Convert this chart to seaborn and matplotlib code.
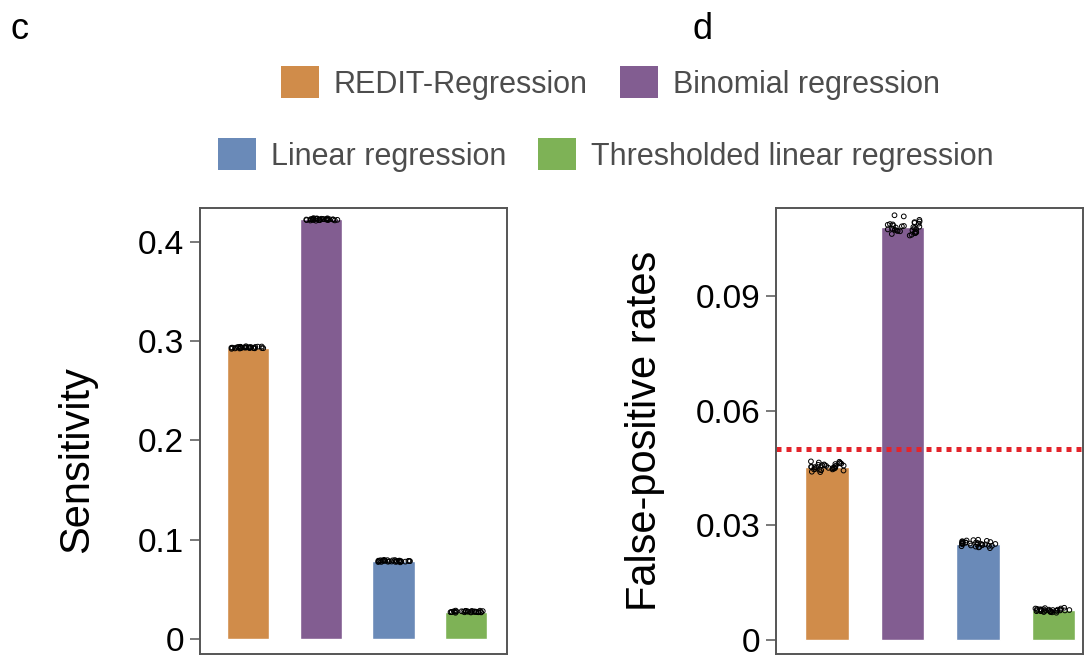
import numpy as np
import pandas as pd
import matplotlib
matplotlib.use("Agg")
import matplotlib.pyplot as plt
from matplotlib.patches import Patch
import seaborn as sns

methods = ["REDIT-Regression", "Binomial regression", "Linear regression",
           "Thresholded linear regression"]
colors = ["#D08C4A", "#825D91", "#6A8AB8", "#7EB256"]

# Per-replicate sensitivity
sens_redit = [0.2932, 0.2941, 0.2928, 0.2937, 0.2945, 0.2930, 0.2926, 0.2939, 0.2934, 0.2948,
              0.2922, 0.2936, 0.2931, 0.2943, 0.2929, 0.2938, 0.2933, 0.2940, 0.2925, 0.2935,
              0.2942, 0.2927, 0.2937, 0.2934, 0.2930, 0.2944, 0.2932, 0.2939, 0.2936, 0.2928]
sens_binom = [0.4221, 0.4230, 0.4215, 0.4226, 0.4235, 0.4218, 0.4224, 0.4229, 0.4212, 0.4227,
              0.4233, 0.4220, 0.4225, 0.4238, 0.4217, 0.4223, 0.4228, 0.4219, 0.4231, 0.4222,
              0.4226, 0.4214, 0.4232, 0.4224, 0.4221, 0.4229, 0.4218, 0.4227, 0.4236, 0.4223]
sens_linear = [0.0782, 0.0790, 0.0778, 0.0786, 0.0794, 0.0780, 0.0775, 0.0788, 0.0784, 0.0797,
               0.0772, 0.0787, 0.0781, 0.0792, 0.0779, 0.0789, 0.0783, 0.0791, 0.0776, 0.0785,
               0.0793, 0.0777, 0.0786, 0.0784, 0.0781, 0.0795, 0.0783, 0.0788, 0.0787, 0.0779]
sens_thresh = [0.0274, 0.0280, 0.0269, 0.0277, 0.0283, 0.0271, 0.0267, 0.0279, 0.0275, 0.0286,
               0.0264, 0.0276, 0.0272, 0.0281, 0.0270, 0.0278, 0.0273, 0.0282, 0.0268, 0.0275,
               0.0284, 0.0269, 0.0277, 0.0274, 0.0271, 0.0285, 0.0273, 0.0279, 0.0276, 0.0270]

# Per-replicate false-positive rates
fpr_redit = [0.0451, 0.0460, 0.0446, 0.0455, 0.0464, 0.0449, 0.0443, 0.0457, 0.0452, 0.0467,
             0.0440, 0.0456, 0.0450, 0.0462, 0.0447, 0.0458, 0.0451, 0.0461, 0.0444, 0.0453,
             0.0463, 0.0445, 0.0455, 0.0452, 0.0448, 0.0466, 0.0450, 0.0457, 0.0454, 0.0446,
             0.0439, 0.0459]
fpr_binom = [0.1075, 0.1088, 0.1066, 0.1080, 0.1095, 0.1070, 0.1062, 0.1084, 0.1077, 0.1099,
             0.1058, 0.1082, 0.1073, 0.1091, 0.1068, 0.1086, 0.1076, 0.1093, 0.1064, 0.1079,
             0.1111, 0.1069, 0.1083, 0.1074, 0.1065, 0.1108, 0.1072, 0.1087, 0.1081, 0.1060,
             0.1071, 0.1089]
fpr_linear = [0.0250, 0.0256, 0.0245, 0.0253, 0.0259, 0.0247, 0.0242, 0.0255, 0.0251, 0.0262,
              0.0240, 0.0254, 0.0249, 0.0258, 0.0246, 0.0255, 0.0250, 0.0257, 0.0243, 0.0252,
              0.0260, 0.0244, 0.0253, 0.0251, 0.0248, 0.0261, 0.0249, 0.0254, 0.0252, 0.0246]
fpr_thresh = [0.0077, 0.0080, 0.0074, 0.0078, 0.0082, 0.0075, 0.0072, 0.0079, 0.0077, 0.0084,
              0.0071, 0.0079, 0.0076, 0.0081, 0.0074, 0.0079, 0.0076, 0.0080, 0.0073, 0.0077,
              0.0083, 0.0073, 0.0078, 0.0077, 0.0075, 0.0082, 0.0076, 0.0079, 0.0078, 0.0074]

fpr_cutoff = 0.05

sens_ticks = [0, 0.1, 0.2, 0.3, 0.4]
sens_ticklabels = ["0", "0.1", "0.2", "0.3", "0.4"]
fpr_ticks = [0, 0.03, 0.06, 0.09]
fpr_ticklabels = ["0", "0.03", "0.06", "0.09"]


def long_frame(groups):
    rows = []
    for m, vals in zip(methods, groups):
        rows += [(m, v) for v in vals]
    return pd.DataFrame(rows, columns=["method", "value"])


sens_df = long_frame([sens_redit, sens_binom, sens_linear, sens_thresh])
fpr_df = long_frame([fpr_redit, fpr_binom, fpr_linear, fpr_thresh])

sns.set_theme(style="white")
plt.rcParams["font.family"] = ["Liberation Sans", "DejaVu Sans"]
plt.rcParams["text.color"] = "black"

W, H = 1086, 666
fig = plt.figure(figsize=(W / 100, H / 100), dpi=100)
ax1 = fig.add_axes([200 / W, 12 / H, 307 / W, 446 / H])
ax2 = fig.add_axes([776 / W, 12 / H, 307 / W, 446 / H])

palette = dict(zip(methods, colors))
np.random.seed(3)


def draw_panel(ax, df, ticks, ticklabels, ylim, xlim):
    sns.barplot(data=df, x="method", y="value", hue="method", order=methods,
                hue_order=methods, palette=palette, errorbar=None, width=0.58,
                saturation=1, legend=False, ax=ax, zorder=1)
    sns.stripplot(data=df, x="method", y="value", order=methods, color="black",
                  jitter=0.24, size=3.4, linewidth=0.7, ax=ax, zorder=3)
    for coll in ax.collections:
        coll.set_facecolor("none")
        coll.set_edgecolor("black")
    ax.set_ylim(*ylim)
    ax.set_xlim(*xlim)
    ax.set_yticks(ticks)
    ax.set_yticklabels(ticklabels)
    ax.set_xticks([])
    ax.set_xlabel("")
    ax.set_ylabel("")
    ax.tick_params(axis="y", left=True, length=7, width=1.1, color="#555555",
                   pad=4.5, labelsize=24, labelcolor="black")
    for sp in ax.spines.values():
        sp.set_visible(True)
        sp.set_color("#555555")
        sp.set_linewidth(1.4)


draw_panel(ax1, sens_df, sens_ticks, sens_ticklabels, (-0.0151, 0.434), (-0.66, 3.56))
draw_panel(ax2, fpr_df, fpr_ticks, fpr_ticklabels, (-0.0037, 0.113), (-0.675, 3.39))
ax2.axhline(fpr_cutoff, color="#E3242B", lw=3.6, ls=(0, (1, 1)), zorder=2)

fig.text(77 / W, 1 - 460 / H, "Sensitivity", rotation=90, fontsize=30,
         ha="center", va="center", color="black")
fig.text(645 / W, 1 - 431 / H, "False-positive rates", rotation=90, fontsize=30,
         ha="center", va="center", color="black")

fig.text(10 / W, 1 - 39 / H, "c", fontsize=26, ha="left", va="baseline", color="black")
fig.text(693 / W, 1 - 39 / H, "d", fontsize=26, ha="left", va="baseline", color="black")

handles = [Patch(facecolor=c, edgecolor="none", label=m) for m, c in zip(methods, colors)]
leg_kw = dict(frameon=False, fontsize=22, handlelength=1.23, handleheight=1.23,
              handletextpad=0.5, columnspacing=1.05, borderpad=0, ncol=2,
              labelcolor="#4D4D4D", loc="center")
leg1 = fig.legend(handles=handles[:2], bbox_to_anchor=(610.5 / W, 1 - 83 / H), **leg_kw)
leg2 = fig.legend(handles=handles[2:], bbox_to_anchor=(606 / W, 1 - 155 / H), **leg_kw)

fig.savefig("out.png", dpi=100, facecolor="white")
